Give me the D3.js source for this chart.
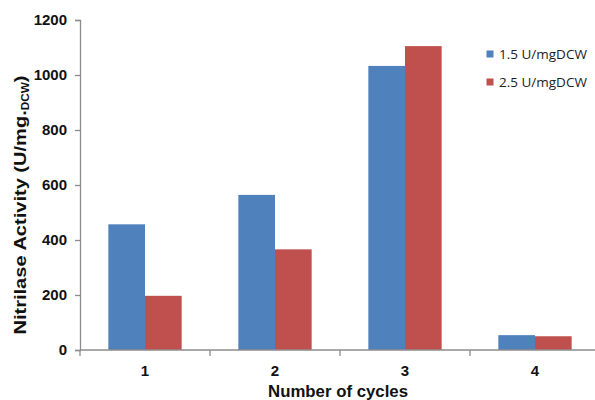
<!DOCTYPE html>
<html><head><meta charset="utf-8">
<script src="https://cdn.jsdelivr.net/npm/d3@7"></script>
<style>body{margin:0;background:#fff}svg{display:block}</style>
</head><body>
<svg id="c" width="595" height="400"></svg>
<script>
const categories = ["1", "2", "3", "4"];
const seriesNames = ["1.5 U/mgDCW", "2.5 U/mgDCW"];
const series15 = [457, 564, 1033, 54];
const series25 = [197, 366, 1105, 50];
const yTicks = [0, 200, 400, 600, 800, 1000, 1200];
const colors = ["#4f81bd", "#c0504d"];

const svg = d3.select("#c");
const font = "Liberation Sans, Arial, sans-serif";
const x0 = d3.scaleBand().domain(categories).range([80, 600]).paddingInner(0.436).paddingOuter(0.218);
const x1 = d3.scaleBand().domain([0, 1]).range([0, x0.bandwidth()]);
const y = d3.scaleLinear().domain([0, 1200]).range([350, 20]);

const data = categories.map((c, i) => ({c, v: [series15[i], series25[i]]}));

svg.append("g").selectAll("g.grp").data(data).join("g").attr("class", "grp")
  .attr("transform", d => `translate(${x0(d.c)},0)`)
  .selectAll("rect").data(d => d.v.map((v, k) => ({v, k}))).join("rect")
  .attr("x", d => x1(d.k)).attr("width", x1.bandwidth())
  .attr("y", d => y(d.v)).attr("height", d => y(0) - y(d.v))
  .attr("fill", d => colors[d.k]);

// Y axis
const yAx = svg.append("g").attr("transform", "translate(80,0)")
  .call(d3.axisLeft(y).tickValues(yTicks).tickSize(5).tickPadding(8).tickFormat(d3.format("d")));
yAx.select(".domain").attr("stroke", "#8c8c8c").attr("stroke-width", 1.3);
yAx.selectAll(".tick line").attr("stroke", "#8c8c8c").attr("stroke-width", 1.3);
yAx.selectAll("text").attr("font-family", font)
  .attr("font-size", 15).attr("font-weight", "bold").attr("fill", "#111");

// X axis with ticks between categories
const xAx = svg.append("g").attr("transform", "translate(0,350)");
xAx.append("line").attr("x1", 80).attr("x2", 600).attr("stroke", "#8c8c8c").attr("stroke-width", 1.3);
const step = x0.step();
const bounds = categories.map(c => x0(c) - x0.paddingInner() * step / 2);
xAx.selectAll("line.t").data(bounds).join("line").attr("class", "t")
  .attr("x1", d => d).attr("x2", d => d).attr("y1", 0).attr("y2", 6)
  .attr("stroke", "#8c8c8c").attr("stroke-width", 1.3);
xAx.selectAll("text").data(categories).join("text")
  .attr("x", d => x0(d) + x0.bandwidth() / 2).attr("y", 26)
  .attr("text-anchor", "middle").attr("font-family", font)
  .attr("font-size", 15).attr("font-weight", "bold").attr("fill", "#111").text(d => d);

// Axis titles
svg.append("text").attr("transform", "translate(338,397) scale(1.05,1)").attr("text-anchor", "middle")
  .attr("font-family", font).attr("font-size", 16)
  .attr("font-weight", "bold").attr("fill", "#111").text("Number of cycles");

const yt = svg.append("text").attr("transform", "translate(26,205) rotate(-90) scale(1.18,1)")
  .attr("text-anchor", "middle").attr("font-family", font)
  .attr("font-size", 17).attr("font-weight", "bold").attr("fill", "#111");
yt.append("tspan").text("Nitrilase Activity  (U/mg.");
yt.append("tspan").attr("font-size", 10).attr("dy", 3).text("DCW");
yt.append("tspan").attr("dy", -3).text(")");

// Legend
const lg = svg.append("g");
seriesNames.forEach((n, i) => {
  const yy = 54 + i * 28;
  lg.append("rect").attr("x", 486.5).attr("y", yy - 3.5).attr("width", 7).attr("height", 7).attr("fill", colors[i]);
  lg.append("text").attr("x", 499).attr("y", yy + 5).attr("font-family", "Open Sans, sans-serif")
    .attr("font-size", 13.5).attr("fill", "#222").text(n);
});
</script>
</body></html>
